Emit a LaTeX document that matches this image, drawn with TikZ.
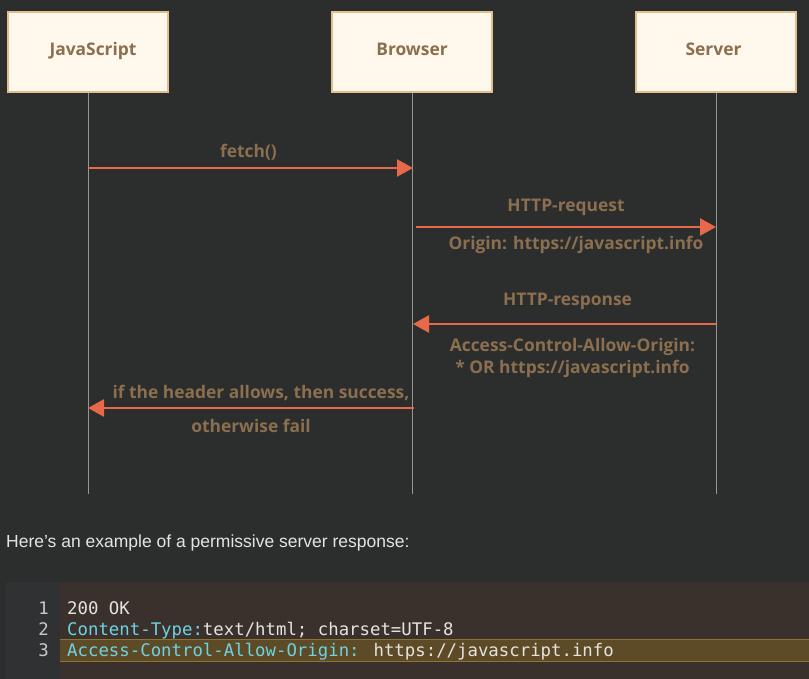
\documentclass[tikz,border=0pt]{standalone}
\usepackage{fontspec}
\setmainfont{Open Sans}
\newfontfamily\parafont{Liberation Sans}
\newfontfamily\codefont{DejaVu Sans Mono}
\usepackage{tikz}
\usetikzlibrary{arrows.meta, positioning}
\definecolor{bgcol}{RGB}{44,45,45}
\definecolor{boxfill}{RGB}{255,248,236}
\definecolor{boxline}{RGB}{226,190,140}
\definecolor{labelcol}{RGB}{139,111,78}
\definecolor{arrowcol}{RGB}{232,104,76}
\definecolor{lifecol}{RGB}{150,150,150}
\definecolor{guttercol}{RGB}{47,49,51}
\definecolor{codebg}{RGB}{58,49,44}
\definecolor{hlfill}{RGB}{93,74,38}
\definecolor{hlline}{RGB}{140,115,55}
\definecolor{keycol}{RGB}{110,210,230}
\definecolor{valcol}{RGB}{228,228,222}
\definecolor{numcol}{RGB}{200,200,200}
\definecolor{paracol}{RGB}{228,228,228}
\tikzset{
	actor/.style = {draw=boxline, fill=boxfill, line width=2pt, minimum width=160pt, minimum height=80pt, inner sep=0pt},
	actortext/.style = {anchor=base, inner sep=0pt, font=\fontsize{17.4}{21}\selectfont\bfseries, text=labelcol},
	msg/.style = {line width=2.5pt, arrowcol, arrows = {-Triangle[length=16pt, width=17pt]}},
	msgtext/.style = {font=\fontsize{17.4}{22}\selectfont\bfseries, text=labelcol, align=center},
	lifeline/.style = {lifecol, line width=1pt},
	codeline/.style = {anchor=base west, inner sep=0pt, font=\fontsize{17.35}{21}\selectfont\codefont}
}
\begin{document}
\begin{tikzpicture}[x=1pt, y=-1pt]
		\fill[bgcol] (0, 0) rectangle (809, 679);
		\useasboundingbox (0, 0) rectangle (809, 679);
		% actors
		\node[actor] (js) at (87.5, 52.5) {};
		\node[actor] (browser) at (412, 52.5) {};
		\node[actor] (server) at (716, 52.5) {};
		\node[actortext] (js label) at (93, 55.5) {JavaScript};
		\node[actortext] (browser label) at (412, 55.5) {Browser};
		\node[actortext] (server label) at (713.5, 55.5) {Server};
		\coordinate (js end) at (88, 494);
		\coordinate (browser end) at (412, 494);
		\coordinate (server end) at (716, 494);
		\draw[lifeline] (js.south -| js end) -- (js end);
		\draw[lifeline] (browser.south) -- (browser end);
		\draw[lifeline] (server.south) -- (server end);
		% messages
		\coordinate (js fetch) at (88, 168);
		\coordinate (browser fetch) at (413, 168);
		\coordinate (browser req) at (416, 227);
		\coordinate (server req) at (716, 227);
		\coordinate (server res) at (716, 324);
		\coordinate (browser res) at (413, 324);
		\coordinate (browser ok) at (414, 408);
		\coordinate (js ok) at (88, 408);
		\draw[msg] (js fetch) -- (browser fetch) node[midway, above=3pt, xshift=-2pt, msgtext] {fetch()};
		\draw[msg] (browser req) -- (server req) node[midway, above=7pt, msgtext] {HTTP-request} node[midway, below=5pt, xshift=10pt, msgtext] {Origin: https://javascript.info};
		\draw[msg] (server res) -- (browser res) node[midway, above=10pt, xshift=3pt, msgtext] {HTTP-response} node[midway, below=10pt, xshift=8pt, msgtext] {Access-Control-Allow-Origin:\\* OR https://javascript.info};
		\draw[msg] (browser ok) -- (js ok) node[midway, above=3pt, xshift=10pt, msgtext] {if the header allows, then success,} node[midway, below=7pt, msgtext] {otherwise fail};
		% text below
		\node[anchor=base west, inner sep=0pt, text=paracol, font=\fontsize{17.5}{21}\selectfont\parafont] (para) at (6, 547) {Here’s an example of a permissive server response:};
		% code block
		\fill[codebg] (6, 582) rectangle (809, 679);
		\fill[guttercol] (6, 582) rectangle (60, 679);
		\fill[hlfill] (60, 639) rectangle (809, 661);
		\draw[hlline, line width=1pt] (60, 639) -- (809, 639) (60, 661) -- (809, 661);
		\foreach \n/\y in {1/614, 2/635, 3/656}
			\node[codeline, anchor=base east, text=numcol] (num\n) at (49, \y) {\n};
		\node[codeline, text=valcol] (line1) at (67, 614) {200 OK};
		\node[codeline, text=keycol] (line2) at (67, 635) {Content-Type:\textcolor{valcol}{text/html; charset=UTF-8}};
		\node[codeline, text=keycol] (line3) at (67, 656) {Access-Control-Allow-Origin: \textcolor{valcol}{https://javascript.info}};
	\end{tikzpicture}
\end{document}
